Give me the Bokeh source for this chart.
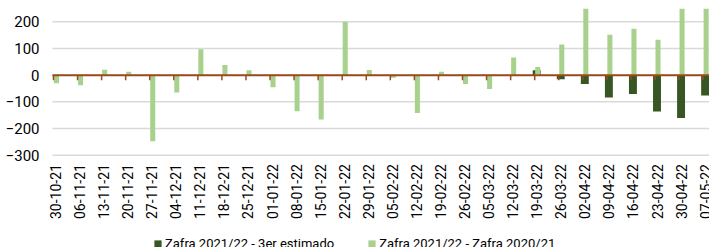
import math
from bokeh.plotting import figure
from bokeh.models import (Range1d, FixedTicker, Legend, LegendItem,
                          ColumnDataSource)
from bokeh.core.properties import value
from bokeh.embed import file_html
from bokeh.resources import INLINE

dates = ["30-10-21", "06-11-21", "13-11-21", "20-11-21", "27-11-21", "04-12-21",
         "11-12-21", "18-12-21", "25-12-21", "01-01-22", "08-01-22", "15-01-22",
         "22-01-22", "29-01-22", "05-02-22", "12-02-22", "19-02-22", "26-02-22",
         "05-03-22", "12-03-22", "19-03-22", "26-03-22", "02-04-22", "09-04-22",
         "16-04-22", "23-04-22", "30-04-22", "07-05-22"]

# Zafra 2021/22 - 3er estimado
estimado = [0, 0, 0, 0, 0, 0, 0, 0, 0, 0, 0, 0, 0, 0, 0, 0, 0, 0,
            0, 0, 18, -15, -33, -84, -71, -136, -161, -76]

# Zafra 2021/22 - Zafra 2020/21
diferencia = [-30, -38, 20, 13, -248, -65, 97, 38, 18, -45, -135, -166,
              200, 19, -10, -142, 13, -33, -52, 66, 31, 115, 270, 152,
              174, 133, 265, 260]

y_ticks = [-300, -200, -100, 0, 100, 200]

DARK = "#375623"
LIGHT = "#A9D18E"
BROWN = "#9A4A1C"
GRID = "#D9D9D9"
FONT = "Roboto"

X_START, X_END = -0.29, 27.265   # view range
AX_START = -0.042                # where grid / zero line begin

idx = list(range(len(dates)))
src = ColumnDataSource(dict(
    i=idx,
    xd=[i + 0.083 for i in idx],
    xl=[i + 0.125 for i in idx],
    est=estimado,
    dif=diferencia,
    lab=dates,
    ybase=[min(y_ticks)] * len(dates),
))
grid_src = ColumnDataSource(dict(
    y=y_ticks,
    x0=[AX_START] * len(y_ticks),
    x1=[X_END] * len(y_ticks),
))

p = figure(width=709, height=247, output_backend="svg", toolbar_location=None,
           x_range=Range1d(X_START, X_END), y_range=Range1d(-646.5, 250),
           min_border_left=46, min_border_right=0, min_border_top=8,
           min_border_bottom=0)
p.outline_line_color = None
p.background_fill_color = "white"
p.border_fill_color = "white"
p.xaxis.visible = False
p.xgrid.grid_line_color = None
p.ygrid.grid_line_color = None

# horizontal gridlines
p.segment(x0="x0", x1="x1", y0="y", y1="y", source=grid_src,
          line_color=GRID, line_width=1.5)

r_dark = p.vbar(x="xd", top="est", bottom=0, width=0.33, source=src,
                fill_color=DARK, line_color=None)
r_light = p.vbar(x="xl", top="dif", bottom=0, width=0.21, source=src,
                 fill_color=LIGHT, line_color=None)

# zero (category) axis line with tick marks
p.segment(x0=AX_START, x1=X_END, y0=0, y1=0, line_color=BROWN, line_width=2)
p.ray(x="i", y=0, length=5, angle=-math.pi / 2, length_units="screen",
      source=src, line_color=BROWN, line_width=1.5)

# category labels (vertical, below the lowest gridline)
p.text(x="i", y="ybase", text="lab", source=src, angle=math.pi / 2,
       x_offset=2, y_offset=9, text_align="right", text_baseline="middle",
       text_font=value(FONT), text_font_size="14px", text_color="#000000")

# y axis
p.yaxis.ticker = FixedTicker(ticks=y_ticks)
p.yaxis.axis_line_color = None
p.yaxis.major_tick_line_color = None
p.yaxis.minor_tick_line_color = None
p.yaxis.major_tick_out = 0
p.yaxis.major_tick_in = 0
p.yaxis.major_label_standoff = 7
p.yaxis.major_label_text_font = FONT
p.yaxis.major_label_text_font_size = "15px"
p.yaxis.major_label_text_color = "#000000"

legend = Legend(items=[
    LegendItem(label="Zafra 2021/22 - 3er estimado", renderers=[r_dark]),
    LegendItem(label="Zafra 2021/22 - Zafra 2020/21", renderers=[r_light]),
], location=(107, -4), orientation="horizontal")
legend.padding = 0
legend.margin = 0
legend.spacing = 33
legend.glyph_width = 9
legend.glyph_height = 9
legend.label_standoff = 3
legend.label_height = 14
legend.label_text_font = FONT
legend.label_text_font_size = "13px"
legend.label_text_color = "#000000"
legend.border_line_color = None
legend.background_fill_alpha = 0
p.add_layout(legend, "center")

open("out.html", "w").write(file_html(p, INLINE))
